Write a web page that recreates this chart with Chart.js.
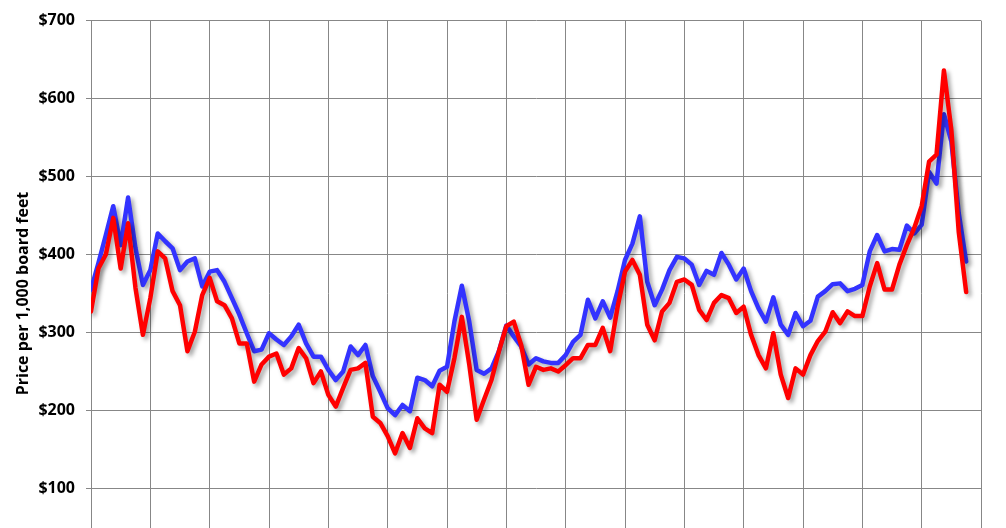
<!DOCTYPE html>
<html>
<head>
    <meta charset="utf-8">
    <script src="https://cdn.jsdelivr.net/npm/chart.js"></script>
    <style>
      * {
        margin: 0;
        padding: 0;
      }
      html, body {
        background: #fff;
        overflow: hidden;
        height: 528px;
      }
      canvas {
        display: block;
      }
    </style>
</head>
<body>
    <!-- taller than the window: the bottom of the plot is cut off like the original -->
    <canvas id="chart" width="1006" height="587"></canvas>
<script>
    // one sample every 1/8 of a grid interval
    const samplesPerInterval = 8;

    const redPrices = [
        327, 382, 400, 447, 382, 440, 357, 297, 344, 404,
        395, 353, 335, 276, 301, 348, 370, 340, 335, 318,
        286, 286, 237, 259, 269, 273, 246, 254, 280, 267,
        235, 250, 220, 205, 229, 252, 254, 261, 192, 184,
        167, 145, 171, 152, 190, 177, 171, 233, 224, 267,
        320, 259, 188, 214, 239, 276, 308, 314, 284, 233,
        256, 252, 254, 250, 258, 267, 267, 284, 284, 306,
        276, 333, 378, 393, 374, 310, 290, 327, 338, 365,
        368, 361, 329, 316, 338, 348, 344, 325, 333, 297,
        271, 254, 299, 246, 216, 254, 246, 271, 289, 301,
        326, 312, 327, 321, 321, 359, 389, 355, 355, 387,
        412, 434, 462, 519, 528, 636, 560, 429, 352
    ];

    const bluePrices = [
        355, 389, 425, 462, 412, 473, 408, 361, 380, 427,
        417, 408, 380, 391, 395, 359, 378, 380, 365, 344,
        323, 299, 276, 278, 299, 291, 284, 295, 310, 286,
        269, 269, 252, 239, 250, 282, 271, 284, 244, 224,
        203, 194, 207, 199, 242, 239, 231, 251, 256, 314,
        360, 314, 252, 247, 254, 276, 309, 295, 282, 259,
        267, 263, 261, 261, 271, 288, 297, 342, 318, 340,
        319, 353, 393, 414, 449, 365, 335, 355, 380, 397,
        395, 387, 361, 379, 374, 402, 387, 368, 382, 353,
        331, 314, 345, 310, 297, 325, 308, 315, 346, 353,
        362, 363, 353, 356, 361, 404, 425, 404, 407, 406,
        437, 427, 438, 506, 491, 580, 545, 453, 391
    ];

    const yTicks = [0, 100, 200, 300, 400, 500, 600, 700];

    function toPoints(values) {
        return values.map((v, i) => ({ x: i / samplesPerInterval, y: v }));
    }

    const gridColor = '#878787';

    // Excel style drop shadow under the lines
    const shadowPlugin = {
        id: 'lineShadow',
        beforeDatasetsDraw(chart) {
            const ctx = chart.ctx;
            ctx.save();
            ctx.shadowColor = 'rgba(0, 0, 0, 0.35)';
            ctx.shadowBlur = 4;
            ctx.shadowOffsetX = 3;
            ctx.shadowOffsetY = 3;
        },
        afterDatasetsDraw(chart) {
            chart.ctx.restore();
        }
    };

    const data = {
        datasets: [{
            label: 'Red',
            data: toPoints(redPrices),
            borderColor: 'rgb(255, 0, 0)',
            borderWidth: 4.5,
            borderJoinStyle: 'round',
            borderCapStyle: 'round',
            pointRadius: 0,
            tension: 0
        }, {
            label: 'Blue',
            data: toPoints(bluePrices),
            borderColor: 'rgb(51, 51, 255)',
            borderWidth: 4.5,
            borderJoinStyle: 'round',
            borderCapStyle: 'round',
            pointRadius: 0,
            tension: 0
        }]
    };

    const config = {
        type: 'line',
        data,
        options: {
            responsive: false,
            animation: false,
            devicePixelRatio: 1,
            layout: {
                autoPadding: false,
                padding: { top: 19, right: 25, bottom: 1, left: 0 }
            },
            plugins: {
                legend: { display: false },
                tooltip: { enabled: false }
            },
            scales: {
                x: {
                    type: 'linear',
                    min: 0,
                    max: 15,
                    ticks: { display: false, stepSize: 1 },
                    grid: { color: gridColor, drawTicks: false },
                    border: { display: false },
                    afterFit(scale) {
                        scale.height = 0;
                    }
                },
                y: {
                    min: 0,
                    max: 700,
                    afterBuildTicks(scale) {
                        scale.ticks = yTicks.map(v => ({ value: v }));
                    },
                    afterFit(scale) {
                        scale.width = 91;
                    },
                    ticks: {
                        padding: 11,
                        color: '#000',
                        font: { family: 'Open Sans', size: 16, weight: 'bold' },
                        callback: v => '$' + v
                    },
                    grid: { color: gridColor, tickLength: 5 },
                    border: { color: gridColor },
                    title: {
                        display: true,
                        text: 'Price per 1,000 board feet',
                        color: '#000',
                        padding: { top: 14, bottom: 0 },
                        font: { family: 'Open Sans', size: 16, weight: 'bold' }
                    }
                }
            }
        },
        plugins: [shadowPlugin]
    };

    const chart = new Chart(document.getElementById('chart'), config);
</script>
</body>
</html>
